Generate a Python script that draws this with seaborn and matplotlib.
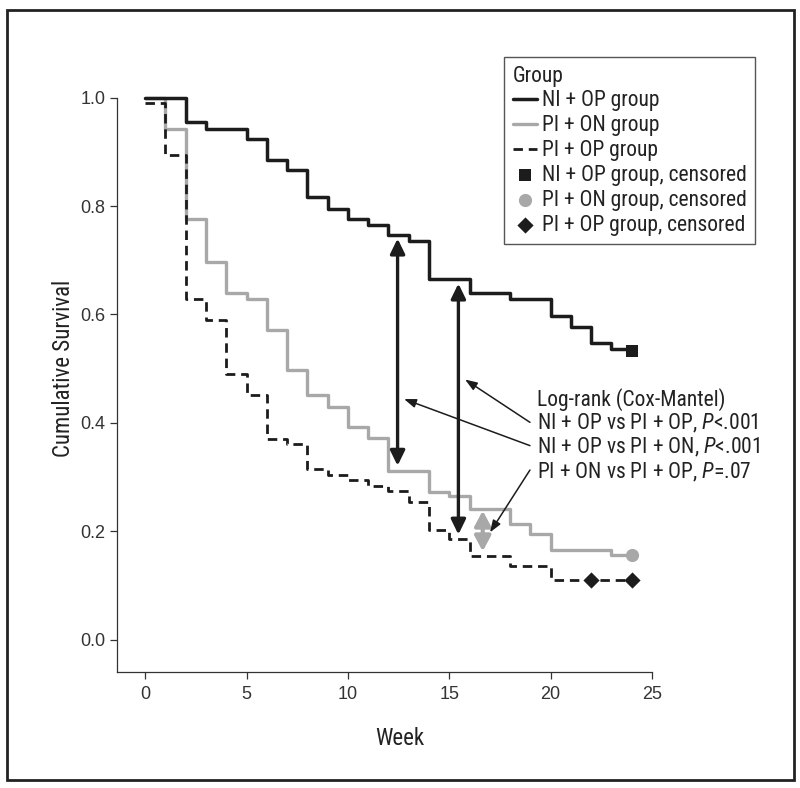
import matplotlib
matplotlib.use("Agg")
import matplotlib.pyplot as plt
import seaborn as sns
import pandas as pd
from matplotlib import font_manager as fm
from matplotlib.patches import Rectangle

# ---------------- data ----------------
ni_op_weeks = [0, 2, 3, 5, 6, 7, 8, 9, 10, 11, 12, 13, 14, 16, 18, 20, 21, 22, 23, 24]
ni_op_surv = [1.0, 0.955, 0.942, 0.923, 0.885, 0.867, 0.816, 0.795, 0.776, 0.766,
              0.746, 0.736, 0.666, 0.640, 0.629, 0.598, 0.577, 0.548, 0.537, 0.537]

pi_on_weeks = [0, 1, 2, 3, 4, 5, 6, 7, 8, 9, 10, 11, 12, 14, 15, 16, 18, 19, 20, 23, 24]
pi_on_surv = [1.0, 0.943, 0.777, 0.697, 0.640, 0.629, 0.571, 0.498, 0.451, 0.430,
              0.392, 0.372, 0.312, 0.272, 0.265, 0.241, 0.214, 0.195, 0.166, 0.156, 0.156]

pi_op_weeks = [0, 1, 2, 3, 4, 5, 6, 7, 8, 9, 10, 11, 12, 13, 14, 15, 16, 18, 20, 24]
pi_op_surv = [0.99, 0.894, 0.629, 0.590, 0.491, 0.452, 0.371, 0.361, 0.315, 0.304,
              0.294, 0.284, 0.275, 0.254, 0.203, 0.185, 0.155, 0.135, 0.110, 0.110]

ni_op_cens_weeks = [24]
ni_op_cens_surv = [0.533]
pi_on_cens_weeks = [24]
pi_on_cens_surv = [0.156]
pi_op_cens_weeks = [22, 24]
pi_op_cens_surv = [0.110, 0.110]

group_labels = ["NI + OP group", "PI + ON group", "PI + OP group"]
cens_labels = ["NI + OP group, censored", "PI + ON group, censored", "PI + OP group, censored"]

x_ticks = [0, 5, 10, 15, 20, 25]
y_ticks = [0.0, 0.2, 0.4, 0.6, 0.8, 1.0]

# comparison double arrows: (week, lower, upper)
diff_arrows_black = [(12.45, 0.321, 0.740), (15.45, 0.194, 0.657)]
diff_arrow_gray = (16.65, 0.163, 0.238)

annot_lines = ["Log-rank (Cox-Mantel)",
               "NI + OP vs PI + OP, $P$<.001",
               "NI + OP vs PI + ON, $P$<.001",
               "PI + ON vs PI + OP, $P$=.07"]
annot_x = 19.32
annot_y = [0.443, 0.399, 0.355, 0.309]
# pointers: (tail x, tail y, head x, head y)
pointers = [(18.98, 0.401, 15.78, 0.480),
            (18.98, 0.358, 12.77, 0.444),
            (18.98, 0.313, 17.01, 0.198)]

# ---------------- style ----------------
sns.set_theme(style="ticks")
names = {f.name for f in fm.fontManager.ttflist}
cond = next((n for n in ["Liberation Sans Narrow", "Roboto Condensed",
                         "Open Sans Condensed", "DejaVu Sans Condensed"] if n in names),
            "Roboto")
plt.rcParams["font.family"] = ["Liberation Sans", "DejaVu Sans"]
plt.rcParams["mathtext.fontset"] = "custom"
plt.rcParams["mathtext.it"] = f"{cond}:italic"
plt.rcParams["mathtext.rm"] = cond
plt.rcParams["mathtext.default"] = "it"

BLACK = "#1c1c1c"
GRAY = "#a8a8a8"
AXC = "#333333"
cond_font = {"family": [cond, "DejaVu Sans"], "size": 15.5}
label_font = {"family": [cond, "DejaVu Sans"], "size": 16.5}

fig = plt.figure(figsize=(8.0, 7.88), dpi=100)
ax = fig.add_axes([0.146, 0.147, 0.669, 0.729])

df_ni = pd.DataFrame({"week": ni_op_weeks, "surv": ni_op_surv})
df_on = pd.DataFrame({"week": pi_on_weeks, "surv": pi_on_surv})
df_op = pd.DataFrame({"week": pi_op_weeks, "surv": pi_op_surv})

sns.lineplot(data=df_on, x="week", y="surv", ax=ax, color=GRAY, lw=2.4,
             drawstyle="steps-post", errorbar=None, label=group_labels[1],
             clip_on=False, zorder=2)
sns.lineplot(data=df_op, x="week", y="surv", ax=ax, color=BLACK, lw=2.0,
             linestyle=(0, (3.4, 2.1)), drawstyle="steps-post", errorbar=None,
             label=group_labels[2], clip_on=False, zorder=3)
sns.lineplot(data=df_ni, x="week", y="surv", ax=ax, color=BLACK, lw=2.5,
             drawstyle="steps-post", errorbar=None, label=group_labels[0],
             clip_on=False, zorder=4)

sns.scatterplot(x=ni_op_cens_weeks, y=ni_op_cens_surv, ax=ax, marker="s", s=66,
                color=BLACK, linewidth=0, label=cens_labels[0], zorder=5, clip_on=False)
sns.scatterplot(x=pi_on_cens_weeks, y=pi_on_cens_surv, ax=ax, marker="o", s=90,
                color=GRAY, linewidth=0, label=cens_labels[1], zorder=5, clip_on=False)
sns.scatterplot(x=pi_op_cens_weeks, y=pi_op_cens_surv, ax=ax, marker="D", s=68,
                color=BLACK, linewidth=0, label=cens_labels[2], zorder=5, clip_on=False)

# double arrows
for (xw, lo, hi) in diff_arrows_black:
    ax.annotate("", xy=(xw, hi), xytext=(xw, lo),
                arrowprops=dict(arrowstyle="<|-|>,head_length=0.45,head_width=0.22",
                                mutation_scale=20, lw=2.4, color=BLACK,
                                shrinkA=0, shrinkB=0), zorder=6)
xw, lo, hi = diff_arrow_gray
ax.annotate("", xy=(xw, hi), xytext=(xw, lo),
            arrowprops=dict(arrowstyle="<|-|>,head_length=0.45,head_width=0.24",
                            mutation_scale=20, lw=3.0, color=GRAY,
                            shrinkA=0, shrinkB=0), zorder=6)

for (tx, ty, hx, hy) in pointers:
    ax.annotate("", xy=(hx, hy), xytext=(tx, ty),
                arrowprops=dict(arrowstyle="-|>,head_length=0.6,head_width=0.22",
                                mutation_scale=12, lw=1.1, color=BLACK,
                                shrinkA=0, shrinkB=0), zorder=6)

for txt, yy in zip(annot_lines, annot_y):
    ax.text(annot_x, yy, txt, ha="left", va="center", color="#222222",
            fontdict=cond_font, zorder=7)

# axes
ax.set_xlim(-1.4, 25)
ax.set_ylim(-0.06, 1.0)
ax.set_xticks(x_ticks)
ax.set_yticks(y_ticks)
ax.set_xticklabels([str(t) for t in x_ticks])
ax.set_yticklabels([f"{t:.1f}" for t in y_ticks])
sns.despine(ax=ax)
for sp in ("left", "bottom"):
    ax.spines[sp].set_color(AXC)
    ax.spines[sp].set_linewidth(0.9)
ax.tick_params(axis="both", direction="out", length=5, width=0.9, color=AXC,
               labelsize=13, labelcolor="#333333")
ax.tick_params(axis="y", pad=3)
ax.tick_params(axis="x", pad=5)

ax.set_xlabel("Week", fontdict=label_font, color="#222222")
ax.set_ylabel("Cumulative Survival", fontdict=label_font, color="#222222")
ax.xaxis.set_label_coords(0.529, -0.095)
ax.yaxis.set_label_coords(-0.078, 0.529)

# legend
h, l = ax.get_legend_handles_labels()
order = group_labels + cens_labels
hmap = dict(zip(l, h))
leg = ax.legend([hmap[k] for k in order], order, loc="upper left",
                bbox_to_anchor=(0.7234, 1.071), borderaxespad=0, frameon=True,
                fancybox=False, edgecolor="#555555", framealpha=1,
                prop=fm.FontProperties(family=[cond, "DejaVu Sans"], size=15.5),
                title="Group",
                title_fontproperties=fm.FontProperties(family=[cond, "DejaVu Sans"], size=15.5),
                alignment="left", handlelength=1.15, handletextpad=0.2,
                labelspacing=0.18, borderpad=0.4)
leg.get_frame().set_linewidth(1.0)
for t in leg.get_texts():
    t.set_color("#222222")
leg.get_title().set_color("#222222")

# outer frame
fig.patches.append(Rectangle((0.00875, 0.0102), 0.98375, 0.9772, transform=fig.transFigure,
                             fill=False, lw=2.0, ec="#222222", zorder=10))

fig.savefig("out.png", dpi=100, facecolor="white")
